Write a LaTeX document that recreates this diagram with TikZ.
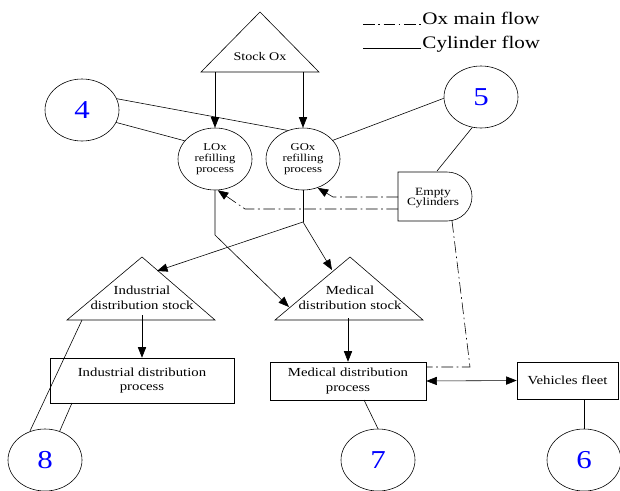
\documentclass[tikz,border=0pt]{standalone}
\usepackage{fontspec}
\setmainfont{Liberation Serif}[FakeStretch=1.2]
\usetikzlibrary{arrows.meta,shapes.geometric}
\tikzset{
  oval/.style={draw, ellipse, minimum width=2.22cm, minimum height=1.86cm, inner sep=0pt, align=center, font=\fontsize{9}{9.5}\selectfont},
  num/.style={oval, text=blue, font=\fontsize{22}{22}\selectfont},
  box/.style={draw, rectangle, align=center, font=\fontsize{10.5}{12.5}\selectfont},
  lbl/.style={align=center, font=\fontsize{10.5}{12.5}\selectfont},
  tip/.tip={Triangle[length=9pt,width=7pt]},
  flow/.style={-tip},
  oxflow/.style={dash pattern=on 10pt off 3pt on 1.5pt off 3pt}
}
\begin{document}
\begin{tikzpicture}[x=0.03cm, y=-0.03cm, line width=0.5pt]
\useasboundingbox (0,0) rectangle (620,490);
% legend
\coordinate (legox) at (363,24);
\coordinate (legcyl) at (363,48);
\draw [oxflow] (legox) -- ++(58,0) node [anchor=base west, inner xsep=1pt, font=\fontsize{15}{15}\selectfont] (legoxtxt) {Ox main flow};
\draw (legcyl) -- ++(58,0) node [anchor=base west, inner xsep=1pt, font=\fontsize{15}{15}\selectfont] (legcyltxt) {Cylinder flow};
% stocks
\draw (201,72) -- (260,12) -- (319,72) -- cycle;
\node [lbl, font=\fontsize{10}{12}\selectfont] (stock) at (260,56) {Stock Ox};
\draw (67,320) -- (142,257) -- (215,320) -- cycle;
\node [lbl] (indstock) at (142,298) {Industrial\\distribution stock};
\draw (275,320) -- (350,257) -- (423,320) -- cycle;
\node [lbl] (medstock) at (350,298) {Medical\\distribution stock};
% empty cylinders
\draw (398,172) -- (447,172) arc [start angle=90, end angle=-90, x radius=0.75cm, y radius=0.735cm] -- (398,221) -- cycle;
\node [align=center, font=\fontsize{9.5}{9}\selectfont] (ec) at (433,198) {Empty\\Cylinders};
% processes
\node [oval] (lox) at (215,159) {LOx\\refilling\\process};
\node [oval] (gox) at (303,159) {GOx\\refilling\\process};
\node [box, minimum width=5.52cm, minimum height=1.35cm] (indproc) at (142,380.5) {Industrial distribution\\process};
\node [box, minimum width=4.68cm, minimum height=1.14cm] (medproc) at (348,381) {Medical distribution\\process};
\node [box, minimum width=3.03cm, minimum height=1.11cm] (fleet) at (567.5,380.5) {Vehicles fleet};
% numbered nodes
\node [num] (n4) at (82,110) {4};
\node [num] (n5) at (481,97) {5};
\node [num] (n8) at (45,460) {8};
\node [num] (n7) at (378,460) {7};
\node [num] (n6) at (584,460) {6};
% points on the stocks
\coordinate (stockL) at (215,72);
\coordinate (stockG) at (303,72);
\coordinate (junc) at (303,222);
\coordinate (loxbend) at (215,235);
\coordinate (indtip) at (157,271);
\coordinate (medtip) at (332,270);
\coordinate (medleft) at (289,307);
\coordinate (indout) at (142,315);
\coordinate (medout) at (348,318);
\coordinate (indbase) at (82,320);
\coordinate (indbot) at (72,403);
\coordinate (medbot) at (364,400);
\coordinate (ectop) at (437,171);
\coordinate (ecA) at (398,197);
\coordinate (ecB) at (398,209);
\coordinate (ecbot) at (452,221);
\coordinate (ecturn) at (470,367);
% cylinder flow
\draw [flow] (stockL) -- (lox.north);
\draw [flow] (stockG) -- (gox.north);
\draw (n4.18) -- (gox.118);
\draw (n4.-20) -- (lox.149);
\draw (n5.182) -- (gox.32);
\draw (n5.254) -- (ectop);
\draw (gox.south) -- (junc);
\draw [flow] (junc) -- (indtip);
\draw [flow] (junc) -- (medtip);
\draw [flow] (lox.south) -- (loxbend) -- (medleft);
\draw [flow] (indout) -- (indproc.north);
\draw [flow] (medout) -- (medproc.north);
\draw [tip-tip] (medproc.east) -- (fleet.west);
\draw (indbase) -- (n8.118);
\draw (indbot) -- (n8.63);
\draw (medbot) -- (n7.north);
\draw (n6.north |- fleet.south) -- (n6.north);
% ox main flow
\draw [oxflow, flow] (ecA) -- (333,197) -- (gox.-63);
\draw [oxflow, flow] (ecB) -- (245,209) -- (lox.-85);
\draw [oxflow] (ecbot) -- (ecturn) -- (ecturn -| medproc.east);
\end{tikzpicture}
\end{document}
